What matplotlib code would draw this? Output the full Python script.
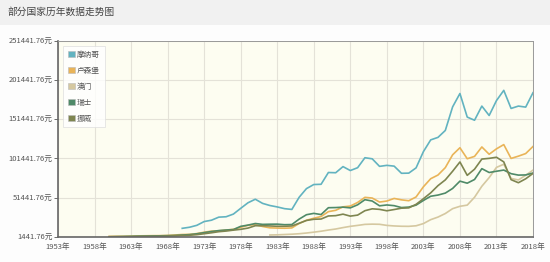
import matplotlib.pyplot as plt
import matplotlib.patches as mpatches
import numpy as np

plt.rcParams['font.family'] = ['Noto Sans CJK SC', 'DejaVu Sans']

years = list(range(1953, 2019))

# 摩纳哥 1970-2018
monaco_years = list(range(1970, 2019))
monaco = [12480, 13850, 16300, 21100, 22800, 26700, 27200, 30600, 37900, 45000,
          49500, 44200, 41500, 39700, 37500, 36500, 52000, 63000, 68200, 68500,
          83500, 83200, 91000, 86000, 89600, 102300, 100900, 91300, 92600, 91600,
          82500, 82700, 89400, 110000, 125000, 128200, 137000, 167000, 184000, 154000,
          150000, 168000, 156000, 175000, 188000, 165000, 168000, 166700, 185000]

# 卢森堡 1960-2018
lux_years = list(range(1960, 2019))
luxembourg = [2240, 2360, 2400, 2570, 2880, 3000, 3130, 3160, 3430, 4000,
              4600, 4770, 5800, 7500, 8900, 9300, 10300, 11200, 13800, 16300,
              17100, 14800, 13100, 12800, 12600, 13000, 18700, 22700, 25300, 27500,
              33700, 35400, 39800, 40800, 45400, 51900, 51000, 45900, 47200, 50500,
              48700, 47600, 52400, 65300, 75600, 80300, 89700, 106000, 115000, 101000,
              104000, 116000, 106700, 113600, 119000, 101400, 104300, 107600, 116600]

# 澳门 1982-2018
macau_years = list(range(1982, 2019))
macau = [4000, 4200, 4600, 5000, 5600, 6500, 7600, 8800, 10300, 11600,
         13400, 15000, 16200, 17500, 17800, 17600, 16200, 15500, 15100, 15000,
         15700, 18500, 23500, 26800, 31300, 37500, 40500, 42000, 52000, 66000,
         77000, 90000, 94000, 76000, 74000, 80000, 86500]

# 瑞士 1960-2018
swiss_years = list(range(1960, 2019))
switzerland = [1787, 1970, 2130, 2300, 2480, 2600, 2760, 2960, 3140, 3420,
               3900, 4500, 5500, 7000, 8400, 9600, 10300, 10900, 15000, 16600,
               18600, 17500, 17700, 17800, 17100, 17300, 24200, 29800, 31500, 30000,
               38700, 38900, 39400, 38500, 42400, 48900, 47200, 41100, 42200, 41300,
               38900, 39500, 42000, 47900, 53300, 54800, 57300, 63200, 72500, 69900,
               74600, 88400, 83500, 85100, 86600, 82000, 80200, 80400, 82800]

# 挪威 1960-2018
nor_years = list(range(1960, 2019))
norway = [1440, 1560, 1670, 1780, 1940, 2140, 2300, 2500, 2690, 2920,
          3300, 3700, 4400, 5600, 6800, 8200, 9000, 10200, 11200, 12800,
          15800, 15800, 15500, 15100, 15100, 15500, 18900, 22500, 24000, 24300,
          28200, 28600, 30500, 28000, 29300, 34900, 37300, 36600, 34800, 36400,
          38100, 38500, 43000, 50100, 57600, 66800, 74100, 85100, 96900, 79900,
          87700, 100600, 101500, 102900, 97000, 74400, 70500, 75500, 82300]

series = [
    ('摩纳哥', monaco_years, monaco, '#62b3c0'),
    ('卢森堡', lux_years, luxembourg, '#e9b458'),
    ('澳门', macau_years, macau, '#d5c8a0'),
    ('瑞士', swiss_years, switzerland, '#4f8a68'),
    ('挪威', nor_years, norway, '#7e8550'),
]

y_min = 1441.76
y_ticks = [y_min + 50000 * i for i in range(6)]
x_ticks = list(range(1953, 2019, 5))

fig = plt.figure(figsize=(5.5, 2.62), dpi=100)
fig.patch.set_facecolor('#fdfdfd')
# 标题栏
fig.patches.append(mpatches.Rectangle((0, 1 - 25 / 262), 1, 25 / 262, transform=fig.transFigure,
                                      facecolor='#f1f1f1', edgecolor='none', zorder=0))
fig.text(8 / 550, 1 - 12 / 262, '部分国家历年数据走势图', fontsize=7, color='#444444',
         va='center', ha='left')

ax = fig.add_axes([58 / 550, 1 - 237 / 262, (533 - 58) / 550, (237 - 40.5) / 262])
ax.set_facecolor('#fdfdf1')

for name, xs, vals, c in series:
    ax.plot(xs, vals, color=c, linewidth=1.2, label=name)

ax.set_xlim(1953, 2018)
ax.set_ylim(y_min, y_ticks[-1])
ax.set_yticks(y_ticks)
ax.set_yticklabels([f'{v:.2f}元' for v in y_ticks])
ax.set_xticks(x_ticks)
ax.set_xticklabels([f'{y}年' for y in x_ticks])
ax.tick_params(axis='y', labelsize=5.5, colors='#555555', length=3, width=0.6, pad=1)
ax.tick_params(axis='x', labelsize=5.5, colors='#555555', length=0, pad=4)
ax.grid(True, color='#e4e2d8', linewidth=0.8)
ax.set_axisbelow(True)

for side in ['left', 'bottom']:
    ax.spines[side].set_color('#666666')
    ax.spines[side].set_linewidth(1.2)
for side in ['top', 'right']:
    ax.spines[side].set_color('#999999')
    ax.spines[side].set_linewidth(0.7)

handles = [mpatches.Patch(facecolor=c, edgecolor='#bbbbbb', linewidth=0.4) for _, _, _, c in series]
leg = ax.legend(handles, [s[0] for s in series], loc='upper left', bbox_to_anchor=(0.008, 0.98),
                fontsize=5.5, frameon=True, fancybox=False, handlelength=0.9, handleheight=0.9,
                handletextpad=0.3, labelspacing=1.05, borderpad=0.6, borderaxespad=0.2,
                labelcolor='#555555')
leg.get_frame().set_edgecolor('#dddddd')
leg.get_frame().set_linewidth(0.6)
leg.get_frame().set_facecolor('white')

fig.savefig('out.png', dpi=100, facecolor=fig.get_facecolor())
